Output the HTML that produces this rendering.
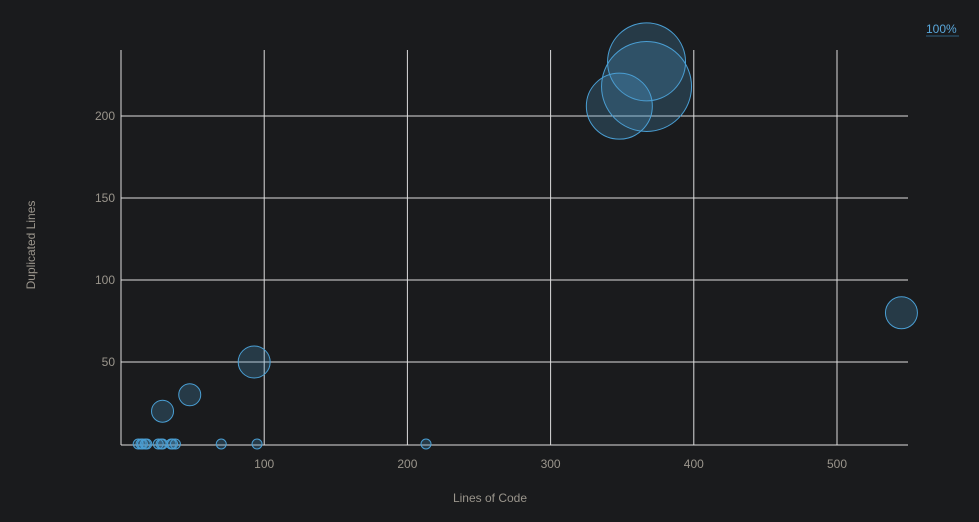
<!DOCTYPE html>
<html><head><meta charset="utf-8"><style>
html,body{margin:0;padding:0;background:#1a1b1d;}
svg{display:block;font-family:"Liberation Sans",sans-serif;}
</style></head><body>
<svg id="chart" width="979" height="522" viewBox="0 0 979 522">
<rect width="979" height="522" fill="#1a1b1d"/>
<g id="grid"></g><g id="bubbles"></g><g id="labels"></g>
<text x="926" y="33" fill="#5aa8dc" font-size="12">100%</text>
<line x1="926" y1="36" x2="959" y2="36" stroke="#2f5f80" stroke-width="1"/>
<text x="490" y="502" text-anchor="middle" fill="#9a958c" font-size="12">Lines of Code</text>
<text transform="translate(35,245) rotate(-90)" text-anchor="middle" fill="#9a958c" font-size="12">Duplicated Lines</text>
</svg>
<script>
const xValues=[367,367,348,545,93,48,29,12,14,15,17,18,26,28,29,35,36,38,70,95,213];
const yValues=[233,218,206,80,50,30,20,0,0,0,0,0,0,0,0,0,0,0,0,0,0];
const sizes=[39,45,33,16,16,11,11,5,5,5,5,5,5,5,5,5,5,5,5,5,5];
const xTicks=[100,200,300,400,500];
const yTicks=[50,100,150,200];
const X0=121,PX=1.432,Y0=444,PY=1.64,L=121,R=908,T=50,B=445;
const xs=v=>X0+v*PX, ys=v=>Y0-v*PY;
const NS="http://www.w3.org/2000/svg";
const grid=document.getElementById('grid'),bub=document.getElementById('bubbles'),lab=document.getElementById('labels');
function mk(tag,attrs,parent){const e=document.createElementNS(NS,tag);for(const k in attrs)e.setAttribute(k,attrs[k]);parent.appendChild(e);return e;}
let e=mk('line',{x1:L,y1:T,x2:L,y2:B,stroke:'#ddd','stroke-width':1},grid);


e=mk('line',{x1:L,y1:B,x2:R,y2:B,stroke:'#ddd','stroke-width':1},grid);


xTicks.forEach(t=>{const x=xs(t);
 let g=mk('line',{x1:x,y1:T,x2:x,y2:B,stroke:'#ddd','stroke-width':1},grid);
 
 
 let tx=mk('text',{x:x,y:468,'text-anchor':'middle',fill:'#9a958c','font-size':12},lab);tx.textContent=t;
 
 
});
yTicks.forEach(t=>{const y=ys(t);
 let g=mk('line',{x1:L,y1:y,x2:R,y2:y,stroke:'#ddd','stroke-width':1},grid);
 
 
 let tx=mk('text',{x:115,y:y+4,'text-anchor':'end',fill:'#9a958c','font-size':12},lab);tx.textContent=t;
 
 
});
xValues.forEach((v,i)=>{
 let c=mk('circle',{cx:xs(v),cy:ys(yValues[i]),r:sizes[i],fill:'rgba(74,150,200,0.25)',stroke:'#4a9fd4','stroke-width':1},bub);
 
 
});
</script>
</body></html>
